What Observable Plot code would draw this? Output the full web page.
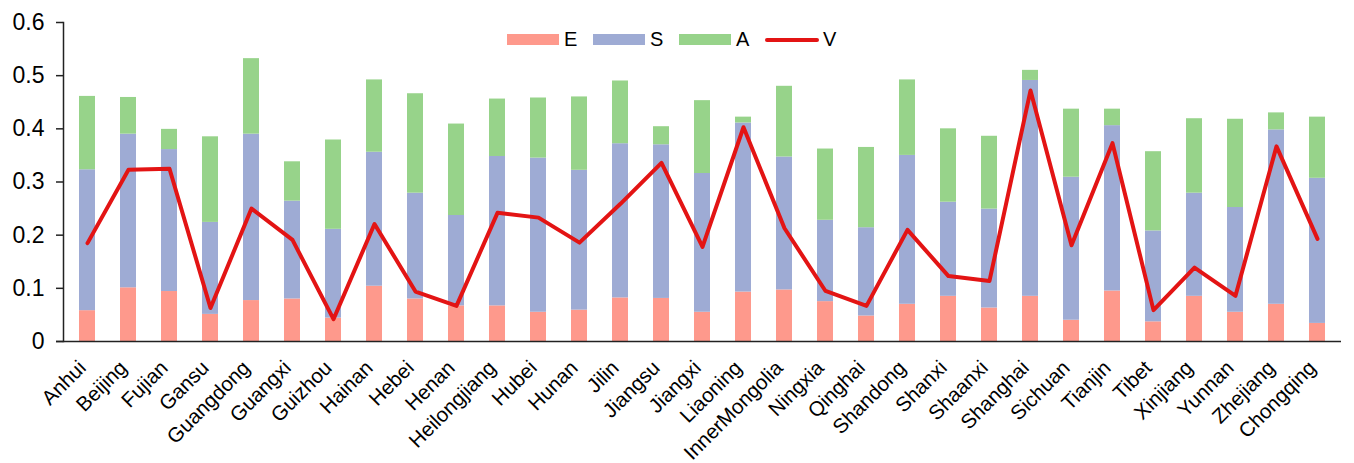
<!DOCTYPE html>
<html>
<head>
<meta charset="utf-8">
<script src="https://cdn.jsdelivr.net/npm/d3@7"></script>
<script src="https://cdn.jsdelivr.net/npm/@observablehq/plot@0.6"></script>
<style>
  html, body { margin: 0; padding: 0; background: #fff; }
  #wrap { position: relative; width: 1354px; height: 463px; font-family: "Liberation Sans", Arial, sans-serif; }
  #legend { position: absolute; top: 28px; left: 507px; display: flex; align-items: center; font-size: 20px; color: #000; }
  #legend .item { display: flex; align-items: center; margin-right: 0; }
  #legend .sw { width: 52px; height: 11px; margin-right: 5px; }
  #legend .ln { width: 54px; height: 4px; border-radius: 2px; margin-right: 4px; }
  #legend .lab { width: 29px; }
</style>
</head>
<body>
<div id="wrap">
  <div id="chart"></div>
  <div id="legend"></div>
</div>
<script>
// Provinces along the x axis
const provinces = ["Anhui","Beijing","Fujian","Gansu","Guangdong","Guangxi","Guizhou","Hainan","Hebei","Henan",
  "Heilongjiang","Hubei","Hunan","Jilin","Jiangsu","Jiangxi","Liaoning","InnerMongolia","Ningxia","Qinghai",
  "Shandong","Shanxi","Shaanxi","Shanghai","Sichuan","Tianjin","Tibet","Xinjiang","Yunnan","Zhejiang","Chongqing"];

// Stacked components
const E = [0.058,0.101,0.094,0.051,0.077,0.080,0.044,0.104,0.080,0.067,
  0.067,0.055,0.059,0.082,0.081,0.055,0.093,0.097,0.075,0.048,
  0.070,0.085,0.063,0.085,0.040,0.095,0.037,0.085,0.055,0.070,0.034];
const S = [0.265,0.289,0.267,0.173,0.313,0.184,0.167,0.252,0.199,0.170,
  0.281,0.290,0.263,0.290,0.289,0.261,0.318,0.250,0.153,0.166,
  0.280,0.177,0.186,0.406,0.269,0.311,0.171,0.194,0.197,0.328,0.273];
const A = [0.138,0.069,0.038,0.161,0.142,0.074,0.168,0.136,0.187,0.172,
  0.108,0.113,0.138,0.118,0.034,0.137,0.011,0.133,0.134,0.151,
  0.142,0.138,0.137,0.019,0.128,0.031,0.149,0.140,0.166,0.032,0.115];
// Line series
const V = [0.185,0.323,0.325,0.063,0.250,0.191,0.042,0.221,0.094,0.067,
  0.242,0.233,0.186,0.259,0.336,0.178,0.403,0.213,0.095,0.067,
  0.210,0.123,0.114,0.472,0.181,0.373,0.059,0.139,0.086,0.367,0.193];

const seriesNames = ["E","S","A"];
const seriesColors = ["#fe998c","#9eabd4","#97d38a"];
const lineColor = "#e31414";
const yTicks = [0, 0.1, 0.2, 0.3, 0.4, 0.5, 0.6];
const yTickLabels = ["0","0.1","0.2","0.3","0.4","0.5","0.6"];

// Long table for the stacked bars (E at the bottom, then S, then A)
const stackRows = [];
provinces.forEach((p, i) => {
  [E, S, A].forEach((arr, k) => stackRows.push({province: p, series: seriesNames[k], value: arr[i]}));
});
const lineRows = provinces.map((p, i) => ({province: p, value: V[i]}));

const font = '"Liberation Sans", Arial, sans-serif';

const chart = Plot.plot({
  width: 1354,
  height: 463,
  marginLeft: 63,
  marginRight: 13,
  marginTop: 22,
  marginBottom: 122,
  style: {fontFamily: font, fontSize: "20px", color: "#000", background: "#fff"},
  x: {domain: provinces, paddingInner: 0.61, paddingOuter: 0.31, label: null},
  y: {domain: [0, 0.6], label: null},
  color: {domain: seriesNames, range: seriesColors},
  marks: [
    Plot.barY(stackRows, {x: "province", y: "value", fill: "series", order: seriesNames}),
    Plot.line(lineRows, {x: "province", y: "value", stroke: lineColor, strokeWidth: 4, strokeLinejoin: "round", strokeLinecap: "round"}),
    Plot.frame({anchor: "left", stroke: "#222", strokeWidth: 1.5}),
    Plot.ruleY([0], {stroke: "#222", strokeWidth: 1.5, insetLeft: -7}),
    Plot.axisY({ticks: yTicks, tickFormat: (d) => yTickLabels[yTicks.indexOf(d)], tickSize: 7, tickPadding: 12, fontSize: 23, stroke: "#222", strokeWidth: 1.5, label: null}),
    Plot.axisX({tickRotate: -45, tickSize: 0, tickPadding: 23, dx: -5, fontSize: 20.5, label: null})
  ]
});
document.getElementById("chart").appendChild(chart);

// Legend row
const legend = document.getElementById("legend");
seriesNames.forEach((name, k) => {
  const item = document.createElement("div");
  item.className = "item";
  item.innerHTML = `<span class="sw" style="background:${seriesColors[k]}"></span><span class="lab">${name}</span>`;
  legend.appendChild(item);
});
const vItem = document.createElement("div");
vItem.className = "item";
vItem.innerHTML = `<span class="ln" style="background:${lineColor}"></span><span class="lab">V</span>`;
legend.appendChild(vItem);
</script>
</body>
</html>
